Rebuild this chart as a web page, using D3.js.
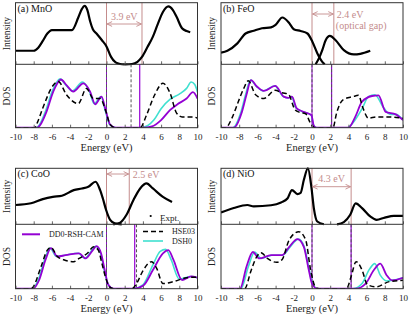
<!DOCTYPE html>
<html>
<head>
<meta charset="utf-8">
<script src="https://cdn.jsdelivr.net/npm/d3@7"></script>
<style>
  body { margin: 0; background: #fff; }
</style>
</head>
<body>
<div id="chart"></div>
<script>
// Dimensions
const width = 409;
const height = 315;

const energyTicks = [-10, -8, -6, -4, -2, 0, 2, 4, 6, 8, 10];
const panelNames = ["(a) MnO", "(b) FeO", "(c) CoO", "(d) NiO"];
const expGaps = [3.9, 2.4, 2.5, 4.3];          // optical gap from experiment (eV)
const rshEdges = [3.65, 2.15, 3.1, 4.3];       // DD0-RSH-CAM conduction edge
const hseEdges = [2.7, null, 3.3, null];       // HSE03 conduction edge

// Experiment (photoemission / inverse photoemission), [energy, intensity]
const mnoPes = [[-10,0.22],[-8,0.22],[-7.5,0.27],[-7,0.38],[-6.5,0.5],[-6,0.556],[-3.8,0.556],[-3.1,0.76],[-2.7,0.9],[-2.4,0.95],[-2.1,0.88],[-1.8,0.7],[-1.5,0.57],[-1.1,0.5],[-0.5,0.39],[0,0.29],[0.5,0.12],[1,0.03],[1.5,0.005],[2,0]];
const mnoBis = [[2,0],[2.8,0.005],[3.4,0.04],[3.9,0.12],[4.5,0.28],[5.1,0.45],[5.6,0.64],[6.2,0.85],[6.8,0.94],[7.3,0.88],[7.7,0.77],[8.3,0.585],[8.8,0.54],[9.2,0.52]];
const feoPes = [[-10,0.19],[-9.3,0.22],[-8.2,0.34],[-7.3,0.5],[-6.4,0.545],[-5.5,0.585],[-4.5,0.6],[-4,0.64],[-3.26,0.76],[-2.53,0.675],[-2,0.57],[-1.25,0.54],[-0.5,0.5],[0.03,0.37],[0.58,0.18],[1.13,0.04],[1.4,0]];
const feoBis = [[0.4,0],[0.77,0.1],[1.13,0.23],[1.5,0.39],[1.97,0.46],[2.6,0.39],[3.5,0.23],[4.6,0.16],[5.3,0.17],[6.4,0.22]];
const cooPes = [[-10,0.345],[-8.3,0.375],[-7,0.45],[-5.9,0.49],[-4.9,0.51],[-3.6,0.61],[-2.7,0.64],[-2,0.67],[-1.2,0.76],[-0.7,0.61],[-0.4,0.46],[-0.05,0.26],[0.4,0.08],[0.9,0.02],[1.67,0]];
const cooBis = [[0.75,0],[1.5,0.03],[2.2,0.17],[2.95,0.43],[3.7,0.64],[4.4,0.73],[5.1,0.64],[6.2,0.49],[7.2,0.4]];
const nioPes = [[-10,0.21],[-8.6,0.29],[-7.1,0.345],[-6.4,0.32],[-4.5,0.34],[-3.4,0.39],[-2.7,0.46],[-2.2,0.61],[-1.6,0.54],[-1.25,0.56],[-0.9,0.79],[-0.45,1.0],[-0.07,0.67],[0.2,0.29],[0.58,0.05],[1.3,0]];
const nioBis = [[2.75,0],[3.5,0.04],[4.2,0.17],[4.8,0.375],[5.5,0.29],[6.4,0.14],[7.1,0.08],[8,0.12],[9,0.15],[10,0.15]];

// DOS curves, [energy, dos]
const mnoRsh = [[-10,0],[-7.6,0],[-7.3,0.04],[-6.6,0.25],[-5.85,0.57],[-5,0.76],[-4.4,0.67],[-3.65,0.57],[-2.55,0.7],[-1.8,0.57],[-1.25,0.37],[-0.55,0.49],[-0.05,0.25],[0.4,0.05],[1,0],[4,0],[5,0.02],[6,0.12],[7,0.28],[7.8,0.37],[8.8,0.46],[9.5,0.56],[10,0.46]];
const mnoDsh = [[-10,0],[-7.7,0],[-7.4,0.04],[-6.7,0.26],[-5.95,0.58],[-5.1,0.77],[-4.5,0.68],[-3.75,0.58],[-2.65,0.72],[-1.9,0.58],[-1.35,0.38],[-0.6,0.49],[-0.1,0.25],[0.35,0.05],[1,0],[3.8,0],[4.5,0.03],[5.2,0.12],[6,0.3],[7,0.45],[8,0.53],[8.8,0.62],[9.3,0.72],[9.7,0.68],[10,0.56]];
const mnoHse = [[-10,0],[-7.9,0],[-7.6,0.08],[-7,0.31],[-5.85,0.67],[-5.3,0.73],[-4.4,0.52],[-3.1,0.38],[-2.2,0.62],[-1.45,0.46],[-0.7,0.46],[-0.05,0.25],[0.4,0.05],[1,0],[3.7,0],[4.4,0.2],[5.3,0.52],[6.2,0.7],[7,0.54],[7.7,0.23],[8.3,0.17],[9.5,0.17],[10,0.15]];
const feoRsh = [[-10,0],[-8.6,0],[-7.7,0.25],[-7.2,0.52],[-6.7,0.75],[-6.05,0.65],[-5.3,0.58],[-4.05,0.66],[-3.1,0.49],[-2.6,0.47],[-2.2,0.49],[-1.7,0.31],[-1.1,0.26],[-0.07,0.2],[0.2,0.03],[0.5,0],[4,0],[4.75,0.17],[5.5,0.41],[6.6,0.5],[7.3,0.51],[8.1,0.25],[9.2,0.21],[10,0.12]];
const feoDsh = [[-10,0],[-8.7,0],[-7.8,0.25],[-7.3,0.52],[-6.75,0.75],[-6.1,0.65],[-5.35,0.58],[-4.1,0.66],[-3.15,0.49],[-2.65,0.47],[-2.25,0.49],[-1.75,0.31],[-1.15,0.26],[-0.1,0.2],[0.2,0.03],[0.5,0],[3.9,0],[4.4,0.06],[5.5,0.3],[6.2,0.49],[6.9,0.52],[7.9,0.31],[8.6,0.21],[9.2,0.21],[10,0.12]];
const feoHse = [[-10,0],[-9.5,0],[-8.8,0.15],[-8.1,0.41],[-7.5,0.62],[-7,0.74],[-6.2,0.52],[-5.3,0.46],[-4.05,0.59],[-3.3,0.55],[-2.6,0.53],[-1.85,0.28],[-1.3,0.24],[-0.7,0.22],[-0.2,0.08],[0.3,0],[2.3,0],[2.7,0.23],[3.4,0.44],[4.5,0.49],[5.1,0.51],[5.6,0.31],[6.2,0.15],[7.1,0.17],[8.5,0.17],[10,0.15]];
const cooRsh = [[-10,0],[-8.1,0],[-7.4,0.135],[-6.7,0.45],[-6.1,0.63],[-5.4,0.5],[-4.5,0.52],[-3,0.55],[-2.3,0.47],[-1.5,0.6],[-1.1,0.66],[-0.6,0.55],[-0.2,0.29],[0.2,0.06],[0.75,0],[2.95,0],[4.05,0.05],[5.1,0.29],[6.2,0.55],[6.8,0.6],[7.35,0.45],[8.3,0.135],[9.3,0.19],[10,0.17]];
const cooDsh = [[-10,0],[-8.2,0],[-7.5,0.135],[-6.8,0.45],[-6.2,0.63],[-5.5,0.5],[-4.6,0.52],[-3.1,0.55],[-2.4,0.47],[-1.6,0.6],[-1.2,0.66],[-0.65,0.55],[-0.25,0.29],[0.2,0.06],[0.75,0],[2.95,0],[4,0.06],[5.1,0.37],[5.9,0.58],[6.5,0.61],[7.1,0.45],[8,0.15],[9.3,0.19],[10,0.17]];
const cooHse = [[-10,0],[-8.3,0],[-8.1,0.02],[-7.2,0.34],[-6.5,0.6],[-6.1,0.64],[-5.4,0.5],[-4.7,0.45],[-3.6,0.42],[-3,0.47],[-2.1,0.55],[-1.4,0.65],[-0.9,0.6],[-0.5,0.39],[0,0.13],[0.4,0.02],[0.8,0],[2.8,0],[3.3,0.08],[4.05,0.29],[4.95,0.42],[5.5,0.32],[6.2,0.08],[7.35,0.11],[8.8,0.17],[10,0.18]];
const nioRsh = [[-10,0],[-7.9,0],[-7.2,0.34],[-6.5,0.57],[-5.8,0.47],[-4.5,0.52],[-3.3,0.52],[-2.5,0.65],[-1.6,0.77],[-0.9,0.65],[-0.35,0.29],[0,0.08],[0.6,0],[4.8,0],[5.9,0.08],[6.8,0.29],[7.5,0.39],[8.2,0.21],[8.8,0.13],[10,0.17]];
const nioDsh = [[-10,0],[-7.8,0],[-7,0.34],[-6.3,0.57],[-5.6,0.47],[-4.4,0.52],[-3.2,0.52],[-2.4,0.65],[-1.5,0.77],[-0.85,0.65],[-0.3,0.29],[0.05,0.08],[0.6,0],[4.5,0],[5.5,0.08],[6.3,0.3],[6.9,0.39],[7.5,0.21],[8.2,0.12],[8.8,0.13],[10,0.17]];
const nioHse = [[-10,0],[-7.4,0],[-6.7,0.28],[-6.1,0.49],[-5.6,0.56],[-4.9,0.47],[-3.9,0.41],[-3.3,0.45],[-2.5,0.76],[-1.45,0.885],[-0.7,0.76],[-0.15,0.29],[0.4,0.02],[0.8,0],[3.8,0],[4.3,0.19],[4.85,0.42],[5.5,0.29],[6.1,0.06],[7.05,0.03],[8.5,0.11],[10,0.13]];

// Colors
const purple = "#9400d3";
const cyan = "#40e0d0";
const rose = "#c48c8c";
const frameColor = "#333";
const serif = "'Liberation Serif', 'Times New Roman', Times, serif";

// Panel layout (pixel boxes)
const panels = [
    { x0: 15.5, x1: 197.5, top: 2.7, mid: 64.3, bot: 127.7, pes: mnoPes, bis: mnoBis, rsh: mnoRsh, dsh: mnoDsh, hse: mnoHse },
    { x0: 221, x1: 403, top: 2.7, mid: 64.3, bot: 127.7, pes: feoPes, bis: feoBis, rsh: feoRsh, dsh: feoDsh, hse: feoHse },
    { x0: 15.5, x1: 197.5, top: 168.3, mid: 224.3, bot: 288.7, pes: cooPes, bis: cooBis, rsh: cooRsh, dsh: cooDsh, hse: cooHse },
    { x0: 221, x1: 403, top: 168.3, mid: 224.3, bot: 288.7, pes: nioPes, bis: nioBis, rsh: nioRsh, dsh: nioDsh, hse: nioHse }
];

const svg = d3.select("#chart")
    .append("svg")
    .attr("width", width)
    .attr("height", height)
    .attr("font-family", serif);

const defs = svg.append("defs");
defs.append("marker")
    .attr("id", "chev")
    .attr("viewBox", "0 0 6 6")
    .attr("refX", 5.6)
    .attr("refY", 3)
    .attr("markerWidth", 6)
    .attr("markerHeight", 6)
    .attr("markerUnits", "userSpaceOnUse")
    .attr("orient", "auto-start-reverse")
    .append("path")
    .attr("d", "M0.5,0.6 L5.5,3 L0.5,5.4")
    .attr("fill", "none")
    .attr("stroke", rose)
    .attr("stroke-width", 0.9);

panels.forEach((p, i) => {
    const x = d3.scaleLinear().domain([-10, 10]).range([p.x0, p.x1]);
    const yI = d3.scaleLinear().domain([0, 1]).range([p.mid, p.top]);
    const yD = d3.scaleLinear().domain([0, 1]).range([p.bot, p.mid]);

    const g = svg.append("g");

    defs.append("clipPath").attr("id", `clip${i}`)
        .append("rect")
        .attr("x", p.x0).attr("y", p.top - 2)
        .attr("width", p.x1 - p.x0).attr("height", p.bot - p.top + 2);

    const plot = g.append("g").attr("clip-path", `url(#clip${i})`);

    // Experimental gap lines (intensity part)
    plot.selectAll(".gapline")
        .data([0, expGaps[i]])
        .enter().append("line")
        .attr("x1", d => x(d)).attr("x2", d => x(d))
        .attr("y1", p.top).attr("y2", p.mid)
        .attr("stroke", rose).attr("stroke-width", 1);

    // Band edge lines (DOS part)
    const vline = (e, color, dash, w) => plot.append("line")
        .attr("x1", x(e)).attr("x2", x(e))
        .attr("y1", p.mid).attr("y2", p.bot)
        .attr("stroke", color).attr("stroke-width", w)
        .attr("stroke-dasharray", dash);
    vline(0, purple, null, 1);
    vline(0, "#555", "3,2", 1);
    vline(rshEdges[i], purple, null, 1.2);
    if (hseEdges[i] != null) vline(hseEdges[i], "#555", "3,2", 1);
    else vline(rshEdges[i], "#555", "3,2", 1);

    // Experimental spectra
    const lineI = d3.line().x(d => x(d[0])).y(d => yI(d[1])).curve(d3.curveMonotoneX);
    [p.pes, p.bis].forEach(s => {
        plot.append("path")
            .attr("d", lineI(s))
            .attr("fill", "none")
            .attr("stroke", "#000")
            .attr("stroke-width", 2.2);
    });

    // DOS
    const lineD = d3.line().x(d => x(d[0])).y(d => yD(d[1])).curve(d3.curveMonotoneX);
    plot.append("path").attr("d", lineD(p.dsh))
        .attr("fill", "none").attr("stroke", cyan).attr("stroke-width", 1.6);
    plot.append("path").attr("d", lineD(p.rsh))
        .attr("fill", "none").attr("stroke", purple).attr("stroke-width", 1.8);
    plot.append("path").attr("d", lineD(p.hse))
        .attr("fill", "none").attr("stroke", "#000").attr("stroke-width", 1.5)
        .attr("stroke-dasharray", "5,3");

    // Axes (ticks inside)
    g.append("g")
        .attr("transform", `translate(0,${p.mid})`)
        .call(d3.axisBottom(x).tickValues(energyTicks).tickSize(-3).tickSizeOuter(0).tickFormat(""))
        .call(a => a.select(".domain").remove())
        .call(a => a.selectAll("line").attr("stroke", "#666"));

    g.append("g")
        .attr("transform", `translate(0,${p.bot})`)
        .call(d3.axisBottom(x).tickValues(energyTicks).tickSize(-3).tickSizeOuter(0).tickPadding(6)
            .tickFormat(d => String(d)))
        .attr("font-family", serif)
        .attr("font-size", 9)
        .call(a => a.select(".domain").remove())
        .call(a => a.selectAll("line").attr("stroke", "#666"))
        .call(a => a.selectAll("text").attr("fill", "#222"));

    // Frames
    g.append("rect")
        .attr("x", p.x0).attr("y", p.top)
        .attr("width", p.x1 - p.x0).attr("height", p.bot - p.top)
        .attr("fill", "none").attr("stroke", frameColor).attr("stroke-width", 1);
    g.append("line")
        .attr("x1", p.x0).attr("x2", p.x1).attr("y1", p.mid).attr("y2", p.mid)
        .attr("stroke", frameColor).attr("stroke-width", 1);

    // Labels
    g.append("text")
        .attr("x", p.x0 + 2).attr("y", p.top + 9)
        .attr("font-size", 10).attr("fill", "#111")
        .text(panelNames[i]);

    const ylab = (txt, yc) => g.append("text")
        .attr("transform", `translate(${p.x0 - 6},${yc}) rotate(-90)`)
        .attr("text-anchor", "middle")
        .attr("font-size", 9.5).attr("fill", "#222")
        .text(txt);
    ylab("Intensity", (p.top + p.mid) / 2);
    ylab("DOS", (p.mid + p.bot) / 2);

    g.append("text")
        .attr("x", (p.x0 + p.x1) / 2).attr("y", p.bot + 23.5)
        .attr("text-anchor", "middle")
        .attr("font-size", 10.5).attr("fill", "#222")
        .text("Energy (eV)");
});

// Gap arrows and annotations
const arrowRows = [24, 14, 174, 186.7];
panels.forEach((p, i) => {
    const x = d3.scaleLinear().domain([-10, 10]).range([p.x0, p.x1]);
    svg.append("line")
        .attr("x1", x(0) + 0.5).attr("x2", x(expGaps[i]) - 0.5)
        .attr("y1", arrowRows[i]).attr("y2", arrowRows[i])
        .attr("stroke", rose).attr("stroke-width", 0.9)
        .attr("marker-start", "url(#chev)")
        .attr("marker-end", "url(#chev)");
});

const gapText = (px, py, txt, anchor) => svg.append("text")
    .attr("x", px).attr("y", py)
    .attr("text-anchor", anchor)
    .attr("font-size", 10).attr("fill", rose)
    .text(txt);
{
    const xa = d3.scaleLinear().domain([-10, 10]).range([panels[0].x0, panels[0].x1]);
    gapText((xa(0) + xa(expGaps[0])) / 2, 19.5, `${expGaps[0]} eV`, "middle");
    const xb = d3.scaleLinear().domain([-10, 10]).range([panels[1].x0, panels[1].x1]);
    gapText(xb(expGaps[1]) + 3, 17.5, `${expGaps[1]} eV`, "start");
    gapText(xb(expGaps[1]) + 2, 28.5, "(optical gap)", "start");
    const xc = d3.scaleLinear().domain([-10, 10]).range([panels[2].x0, panels[2].x1]);
    gapText(xc(expGaps[2]) + 3.5, 177.5, `${expGaps[2]} eV`, "start");
    const xd = d3.scaleLinear().domain([-10, 10]).range([panels[3].x0, panels[3].x1]);
    gapText((xd(0) + xd(expGaps[3])) / 2, 181.5, `${expGaps[3]} eV`, "middle");
}

// Legend in panel (c)
const leg = svg.append("g").attr("font-size", 8).attr("fill", "#222");
leg.append("circle").attr("cx", 150.7).attr("cy", 216).attr("r", 1.1).attr("fill", "#000");
leg.append("text").attr("x", 160).attr("y", 221).attr("font-size", 9).text("Expt.");
leg.append("line").attr("x1", 22).attr("x2", 40).attr("y1", 234.3).attr("y2", 234.3)
    .attr("stroke", purple).attr("stroke-width", 2);
leg.append("text").attr("x", 49).attr("y", 237).text("DD0-RSH-CAM");
leg.append("line").attr("x1", 143).attr("x2", 163).attr("y1", 231.5).attr("y2", 231.5)
    .attr("stroke", "#000").attr("stroke-width", 1.6).attr("stroke-dasharray", "5,3");
leg.append("text").attr("x", 172).attr("y", 234).text("HSE03");
leg.append("line").attr("x1", 143).attr("x2", 163).attr("y1", 241).attr("y2", 241)
    .attr("stroke", cyan).attr("stroke-width", 1.6);
leg.append("text").attr("x", 172).attr("y", 243.8).text("DSH0");
</script>
</body>
</html>
